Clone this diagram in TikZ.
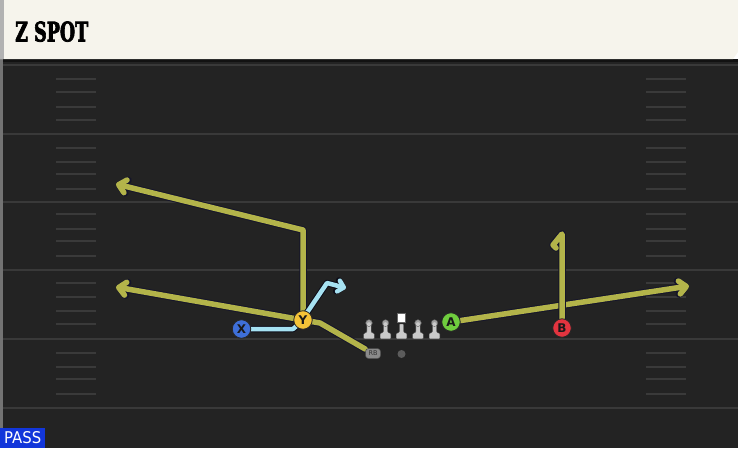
\documentclass[tikz,border=0pt]{standalone}
\usepackage{fontspec}
\usepackage{graphicx}
\setmainfont{DejaVu Sans}
\newfontfamily\titlefont{DejaVu Serif Condensed Bold}[FakeBold=3]
\newfontfamily\letterfont{DejaVu Sans Bold}
\usetikzlibrary{arrows.meta}
\definecolor{fieldbg}{HTML}{232323}
\definecolor{fieldline}{HTML}{393939}
\definecolor{hashc}{HTML}{3A3A3A}
\definecolor{banner}{HTML}{F6F4EC}
\definecolor{passblue}{HTML}{1236DA}
\definecolor{olivec}{HTML}{B3B44A}
\definecolor{bluec}{HTML}{A6E2F2}
\definecolor{edgec}{HTML}{15152A}
\definecolor{xblue}{HTML}{3E6FD8}
\definecolor{yyellow}{HTML}{F4C338}
\definecolor{agreen}{HTML}{6FCD3E}
\definecolor{bred}{HTML}{E2343F}
\definecolor{rbgrey}{HTML}{8A8A8A}
\definecolor{dotgrey}{HTML}{5C5C5C}
\definecolor{linegrey}{HTML}{CACACA}
\definecolor{headgrey}{HTML}{A0A0A0}
\pgfdeclarelayer{field}
\pgfdeclarelayer{routes}
\pgfsetlayers{field,routes,main}
\newcommand\olroute[2]{\draw[routeedge,#1] #2; \draw[routeol,#1] #2;}
\newcommand\blroute[2]{\draw[routeedgeb,#1] #2; \draw[routebl,#1] #2;}
\newcommand\linebody[1]{%
  \filldraw[fill=linegrey, draw=black!70, line width=0.4pt, rounded corners=0.8pt]
    (#1-5.3,338.8) -- (#1-5.3,333.5) -- (#1-2.2,332.3) -- (#1-2.2,324) -- (#1+2.2,324)
    -- (#1+2.2,332.3) -- (#1+5.3,333.5) -- (#1+5.3,338.8) -- cycle;}
\newcommand\lineman[1]{%
  \linebody{#1}
  \filldraw[fill=headgrey, draw=black!70, line width=0.4pt] (#1,323) circle[radius=3.4];
  \fill[linegrey] (#1,324.2) circle[radius=2.0];}
\begin{document}
\begin{tikzpicture}[x=1pt,y=-1pt,
  hashmark/.style={draw=hashc, line width=2pt},
  yardline/.style={draw=fieldline, line width=2pt},
  routeedge/.style={draw=edgec, line width=7.5pt, line join=round, line cap=round},
  routeol/.style={draw=olivec, line width=5.5pt, line join=round, line cap=round},
  routeedgeb/.style={draw=edgec!60!black, line width=6.5pt, line join=round, line cap=round},
  routebl/.style={draw=bluec, line width=4.5pt, line join=round, line cap=round},
  bigtip/.style={-{Straight Barb[length=7pt,width=13pt,round]}},
  smalltip/.style={-{Straight Barb[length=5.5pt,width=11pt,round]}},
  player/.style={circle, minimum size=18.5pt, inner sep=0pt, draw=black!85, line width=0.8pt,
    font=\letterfont\fontsize{12}{12}\selectfont, text=black!90},
  rbbox/.style={rounded corners=3pt, fill=rbgrey, draw=black!70, line width=0.5pt,
    minimum width=15pt, minimum height=10pt, inner sep=0pt,
    font=\fontsize{6.5}{6.5}\selectfont, text=black!80}]
\useasboundingbox (0,0) rectangle (738,448);

% players
\node[player, fill=xblue] (x) at (241.5,329) {X};
\node[player, fill=yyellow] (y) at (303,320) {Y};
\node[player, fill=agreen] (a) at (451,322) {A};
\node[player, fill=bred] (b) at (562,328) {B};
\node[rbbox] (rb) at (373,353.5) {RB};
\node[circle, fill=dotgrey, minimum size=8pt, inner sep=0pt] (dot) at (401.5,354) {};

% linemen
\lineman{369}
\lineman{385.5}
\lineman{418}
\lineman{434.5}
\linebody{401.5}
\filldraw[fill=white, draw=black!60, line width=0.4pt] (397,313.5) rectangle (405.5,321.8);

% title and label
\node[anchor=south west, inner sep=0pt] (title) at (15,42) {\resizebox{73pt}{20pt}{\titlefont Z SPOT}};
\node[anchor=south west, fill=passblue, minimum width=45pt, minimum height=20pt, inner sep=0pt] (pass) at (0,448) {\resizebox{37pt}{12pt}{\color{white}PASS}};

\begin{pgfonlayer}{field}
  \fill[fieldbg] (0,59) rectangle (738,448);
  \fill[black!50!fieldbg] (0,59) rectangle (738,62);
  \fill[black!55] (0,59) rectangle (3,448);
  \fill[banner] (0,0) -- (738,0) -- (738,52) -- (733,59) -- (0,59) -- cycle;
  \fill[black!30] (0,0) rectangle (4,59);
  \foreach \yy in {65,133.5,202,270,338.5,407.5} {
    \draw[yardline] (3,\yy) -- (738,\yy);
  }
  \foreach \yy in {79,92,107,120,148,162,174,189,214,229,241,256,283,297,311,324,353,367,379,394} {
    \draw[hashmark] (56,\yy) -- (96,\yy);
    \draw[hashmark] (646,\yy) -- (686,\yy);
  }
\end{pgfonlayer}

% route points
\coordinate (yc) at (303,230);
\coordinate (yend) at (116,184);
\coordinate (rbc) at (320,323);
\coordinate (rbend) at (116,287);
\coordinate (x1) at (293,329);
\coordinate (x2) at (300,323);
\coordinate (x3) at (327,283);
\coordinate (xend) at (346,288);
\coordinate (aend) at (689,286);
\coordinate (b1) at (562,234);
\coordinate (b2) at (553,245);
\coordinate (b3) at (556,248);

\begin{pgfonlayer}{routes}
  \olroute{bigtip}{(y.center) -- (yc) -- (yend)}
  \olroute{bigtip}{(rb) -- (rbc) -- (rbend)}
  \olroute{bigtip}{(a) -- (aend)}
  \olroute{}{(b) -- (b1) -- (b2) -- (b3)}
  \blroute{smalltip}{(x) -- (x1) -- (x2) -- (x3) -- (xend)}
\end{pgfonlayer}
\end{tikzpicture}
\end{document}
